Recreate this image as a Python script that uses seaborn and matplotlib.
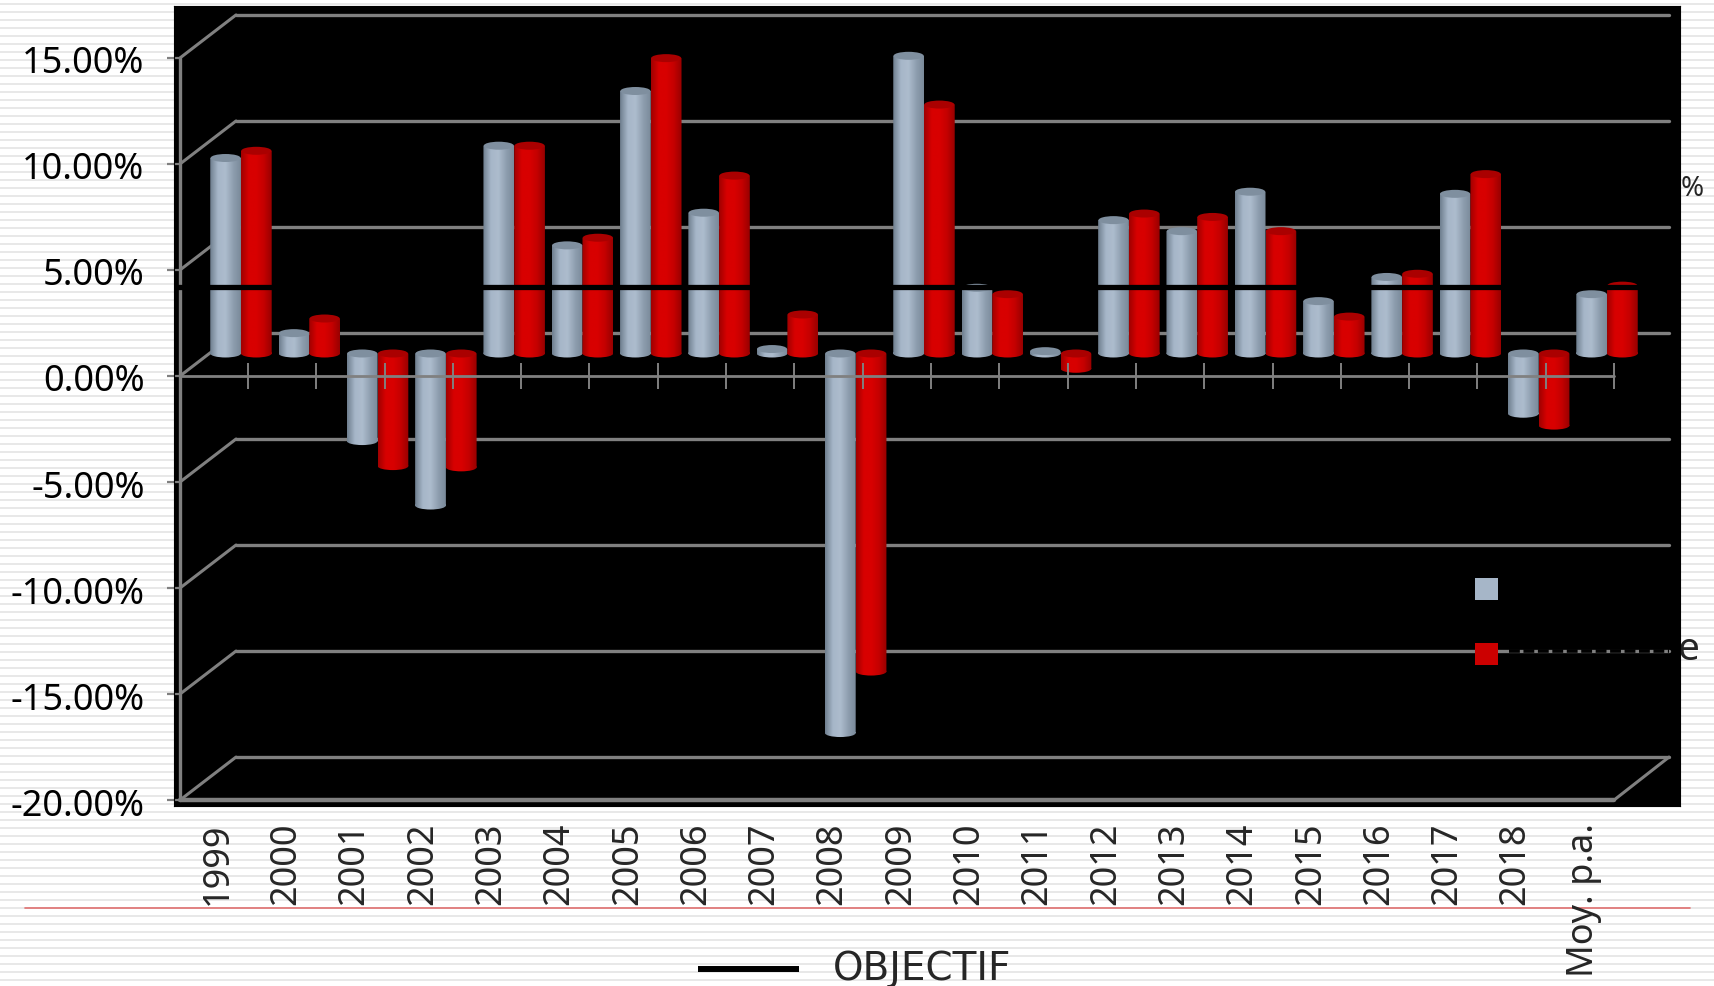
import numpy as np
import pandas as pd
import matplotlib
matplotlib.use("Agg")
import matplotlib.pyplot as plt
import seaborn as sns
from matplotlib.colors import LinearSegmentedColormap
from matplotlib.patches import Ellipse, Rectangle
from matplotlib.path import Path
from matplotlib.transforms import Affine2D

annees = ['1999', '2000', '2001', '2002', '2003', '2004', '2005', '2006', '2007', '2008', '2009',
          '2010', '2011', '2012', '2013', '2014', '2015', '2016', '2017', '2018', 'Moy. p.a.']
serie_grise = [9.22, 0.96, -4.13, -7.17, 9.80, 5.10, 12.38, 6.64, 0.21, -17.9, 14.04,
               3.10, 0.11, 6.29, 5.77, 7.63, 2.47, 3.61, 7.53, -2.84, 2.80]
serie_rouge = [9.56, 1.65, -5.31, -5.37, 9.80, 5.46, 13.93, 8.39, 1.84, -15.0, 11.74,
               2.80, -0.72, 6.60, 6.44, 5.77, 1.74, 3.76, 8.46, -3.40, 3.20]
y_ticks = [15, 10, 5, 0, -5, -10, -15, -20]
y_labels = ['15.00%', '10.00%', '5.00%', '0.00%', '-5.00%', '-10.00%', '-15.00%', '-20.00%']
objectif = 4.22

GRIS = '#808080'
BLEU = '#a6b6c8'
ROUGE = '#cc0000'

sns.set_style("white")
plt.rcParams['font.family'] = ['Noto Sans', 'DejaVu Sans']

W, H = 1715, 986
fig = plt.figure(figsize=(W / 100, H / 100), dpi=100, facecolor='white')

# striped slide background, in pixel coordinates
bg = fig.add_axes([0, 0, 1, 1], zorder=-1)
bg.set_xlim(0, W)
bg.set_ylim(H, 0)
bg.axis('off')
bg.hlines(np.arange(4, H, 8), 0, W, color='#e6e6e6', lw=1.3)
bg.plot([25, 1690], [908, 908], color='#e07070', lw=1.2)
bg.plot([698, 799], [969, 969], color='black', lw=4.3, solid_capstyle='butt')
bg.text(833, 969, 'OBJECTIF', fontsize=28, va='center', ha='left', family='DejaVu Sans')
bg.text(1681, 189, '%', fontsize=20, va='center', ha='left')
bg.text(1678, 650, 'e', fontsize=28, va='center', ha='left')

ax = fig.add_axes([174 / W, (H - 806) / H, 1506 / W, 800 / H], facecolor='black')

df = pd.DataFrame({
    'annee': annees * 2,
    'valeur': serie_grise + serie_rouge,
    'serie': ['grise'] * len(annees) + ['rouge'] * len(annees),
})
sns.barplot(data=df, x='annee', y='valeur', hue='serie', palette=[BLEU, ROUGE], order=annees,
            width=0.9, gap=0, legend=False, ax=ax, zorder=3, linewidth=0)

x_min, x_max = -1.083, 20.966
y_min, y_max = -20.28, 17.45
ax.set_xlim(x_min, x_max)
ax.set_ylim(y_min, y_max)

# pseudo 3D: back wall and bars are shifted in display pixels
mur = ax.transData + Affine2D().translate(56, 43)
decale = ax.transData + Affine2D().translate(-7, 22.5)

x_front = -0.995
x_last = len(annees) - 1
x_back_end = x_front + (1669 - 236) / 68.3
for t in y_ticks:
    ax.plot([x_front, x_back_end], [t, t], color=GRIS, lw=2.4, transform=mur, zorder=1, clip_on=False)
    ax.plot([x_front, x_front + 56 / 68.3], [t, t + 43 / 21.2], color=GRIS, lw=2.2, zorder=1)
ax.plot([x_front, x_front], [-20, 15], color=GRIS, lw=2.4, zorder=2)
ax.plot([x_front, x_last], [-20, -20], color=GRIS, lw=3.2, zorder=2)
ax.plot([x_last, x_last + 55 / 68.3], [-20, -20 + 43 / 21.2], color=GRIS, lw=2.2, zorder=2)

# dotted remains of the hidden legend text on the -15% wall line
ax.plot([x_back_end - 160 / 68.3, x_back_end], [-15, -15], color='black', lw=2.6,
        dashes=(3, 1), transform=mur, zorder=1.5)

# cylinders
cmap_bleu = LinearSegmentedColormap.from_list('b', ['#6f7f8f', '#a6b6c8', '#adbccd', '#8f9fb0', '#7a8a9a'])
cmap_rouge = LinearSegmentedColormap.from_list('r', ['#a00000', '#d80000', '#d80000', '#c40000', '#980000'])
grad = np.linspace(0, 1, 64).reshape(1, -1)
h_cap = 8 / 21.2

for bar in list(ax.patches):
    x0, w, v = bar.get_x(), bar.get_width(), bar.get_height()
    if bar.get_y() != 0:
        v = bar.get_y() + bar.get_height()
    rouge = bar.get_facecolor()[0] > 0.7
    bas = min(v, 0)
    haut = max(v, 0)
    bar.set_visible(False)
    rect = Path.unit_rectangle().transformed(Affine2D().scale(w, haut - bas).translate(x0, bas))
    ell = Path.unit_circle().transformed(Affine2D().scale(w / 2, h_cap / 2).translate(x0 + w / 2, bas))
    im = ax.imshow(grad, cmap=cmap_rouge if rouge else cmap_bleu, aspect='auto', origin='lower',
                   extent=(x0, x0 + w, bas - h_cap, haut), zorder=3, interpolation='bilinear')
    im.set_transform(decale)
    im.set_clip_path(Path.make_compound_path(rect, ell), decale)
    ax.add_patch(Ellipse((x0 + w / 2, haut), w * 0.98, h_cap, transform=decale, zorder=3.1, lw=0,
                         facecolor='#aa0000' if rouge else '#7f8f9f'))

ax.set_xlim(x_min, x_max)
ax.set_ylim(y_min, y_max)

# front zero line and its ticks pass over the bars
ax.plot([x_front, x_last], [0, 0], color=GRIS, lw=2, zorder=4)
ax.vlines(range(len(annees)), -0.6, 0.6, color=GRIS, lw=1.4, zorder=4)

# objective line
ax.hlines(objectif, -1.04, 20.37, color='black', lw=3.8, zorder=5)

# legend squares
for y_leg, couleur in [(-10.57, BLEU), (-13.63, ROUGE)]:
    ax.add_patch(Rectangle((17.97, y_leg), 23 / 68.3, 22 / 21.2, facecolor=couleur, lw=0, zorder=5))

ax.set_yticks(y_ticks)
ax.set_yticklabels(y_labels)
ax.tick_params(axis='y', direction='inout', length=9.4, width=1.6, color=GRIS, pad=16.5,
               labelsize=26, labelcolor='black', left=True)
for lab in ax.get_yticklabels():
    lab.set_transform(lab.get_transform() + Affine2D().translate(0, -2))
ax.set_xticks(range(len(annees)))
ax.set_xticklabels(annees, rotation=90, fontsize=26, va='top', ha='center')
ax.tick_params(axis='x', length=0, pad=12)
decale_label = Affine2D().translate(-30, 0)
for lab in ax.get_xticklabels():
    lab.set_transform(lab.get_transform() + decale_label)
ax.set_xlabel('')
ax.set_ylabel('')
for s in ax.spines.values():
    s.set_color('black')

fig.savefig('out.png', dpi=100)
plt.close()
